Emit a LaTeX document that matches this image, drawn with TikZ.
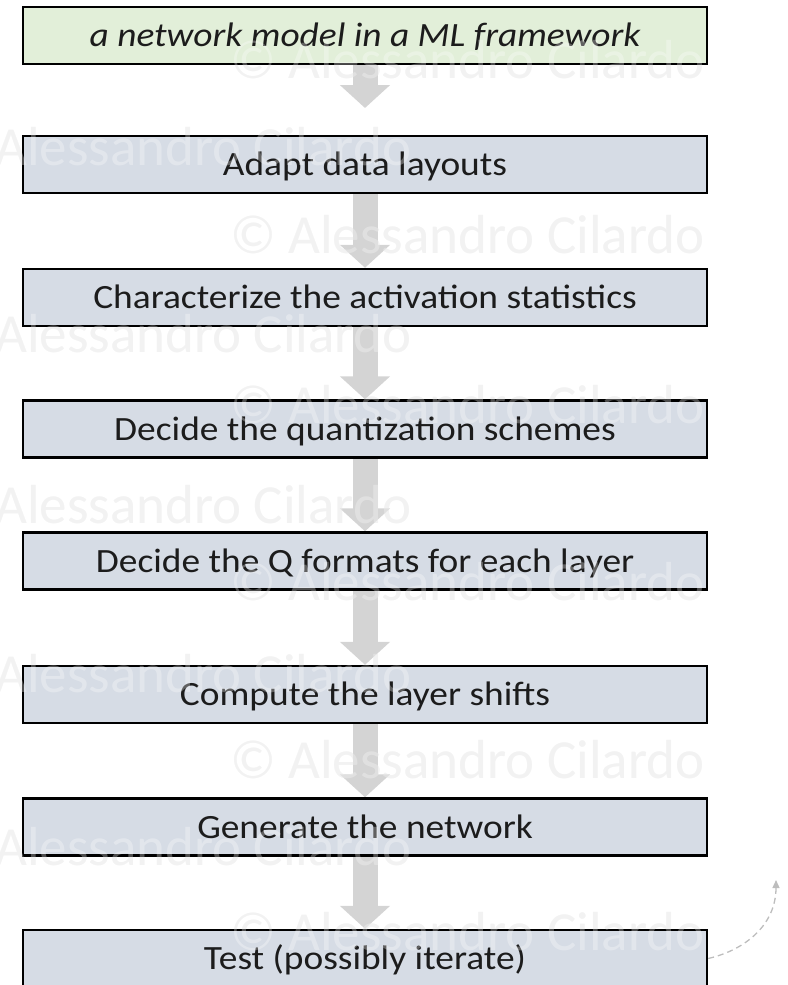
\documentclass[tikz,border=0pt]{standalone}
\usepackage{fontspec}
\setmainfont{Carlito}
\newfontfamily\stepfont[FakeStretch=1.1]{Carlito}
\usetikzlibrary{arrows.meta}

\definecolor{startfill}{HTML}{E2EFD9}
\definecolor{stepfill}{HTML}{D6DCE5}
\definecolor{flowgray}{HTML}{D4D4D4}
\definecolor{markgray}{HTML}{EDEDED}
\definecolor{loopgray}{HTML}{BDBDBD}
\definecolor{steptext}{HTML}{1C1C1C}

\pgfdeclarelayer{marks}
\pgfdeclarelayer{flow}
\pgfdeclarelayer{veil}
\pgfsetlayers{marks,flow,main,veil}

\begin{document}
\begin{tikzpicture}[x=1pt,y=-1pt,
  stepbox/.style={draw=black, line width=2.4pt, fill=stepfill,
    minimum width=684pt, minimum height=57pt, inner sep=0pt,
    text height=23pt, text depth=1pt, text=steptext,
    font=\stepfont\fontsize{34}{36}\selectfont},
  startbox/.style={stepbox, fill=startfill, font=\stepfont\fontsize{34}{36}\selectfont\itshape},
  flowarrow/.style={draw=flowgray, line width=25pt,
    -{Triangle[width=49pt,length=23pt]}},
  loopline/.style={draw=loopgray, line width=1.3pt, dash pattern=on 6pt off 4pt,
    -{Triangle[width=7pt,length=8pt]}},
  markfont/.style={font=\fontsize{55}{60}\selectfont, inner sep=0pt, anchor=base west},
  markbase/.style={markfont, text=markgray},
  markveil/.style={markfont, text=white, text opacity=0.3}
]
\useasboundingbox (0,0) rectangle (787,985);
\clip (0,0) rectangle (787,985);

% watermark, under everything
\begin{pgfonlayer}{marks}
  \foreach \y [count=\i] in {78,253,423,600,778,950}
    \node[markbase] (mc\i) at (230,\y) {© Alessandro Cilardo};
  \foreach \y [count=\i] in {165,352,523,692,865}
    \node[markbase] (ml\i) at (-5,\y) {Alessandro Cilardo};
\end{pgfonlayer}

% process steps
\node[startbox] (b1) at (365,35.5)  {a network model in a ML framework};
\node[stepbox]  (b2) at (365,164.5) {Adapt data layouts};
\node[stepbox]  (b3) at (365,297.5) {Characterize the activation statistics};
\node[stepbox]  (b4) at (365,429)   {Decide the quantization schemes};
\node[stepbox]  (b5) at (365,561)   {Decide the Q formats for each layer};
\node[stepbox]  (b6) at (365,694.5) {Compute the layer shifts};
\node[stepbox]  (b7) at (365,827)   {Generate the network};
\node[stepbox]  (b8) at (365,958.5) {Test (possibly iterate)};

\coordinate (firsttip) at (365,108);
\coordinate (loopend) at (776,880);

% block arrows between steps
\begin{pgfonlayer}{flow}
  \draw[flowarrow] (b1.south) -- (firsttip);
  \foreach \a/\b in {b2/b3,b3/b4,b4/b5,b5/b6,b6/b7,b7/b8}
    \draw[flowarrow] (\a.south) -- (\b.north);
\end{pgfonlayer}

% iteration hint
\draw[loopline] (b8.east) .. controls (745,950) and (776,925) .. (loopend);

% watermark, faint veil over the boxes
\begin{pgfonlayer}{veil}
  \foreach \y [count=\i] in {78,253,423,600,778,950}
    \node[markveil] (vc\i) at (230,\y) {© Alessandro Cilardo};
  \foreach \y [count=\i] in {165,352,523,692,865}
    \node[markveil] (vl\i) at (-5,\y) {Alessandro Cilardo};
\end{pgfonlayer}
\end{tikzpicture}
\end{document}
